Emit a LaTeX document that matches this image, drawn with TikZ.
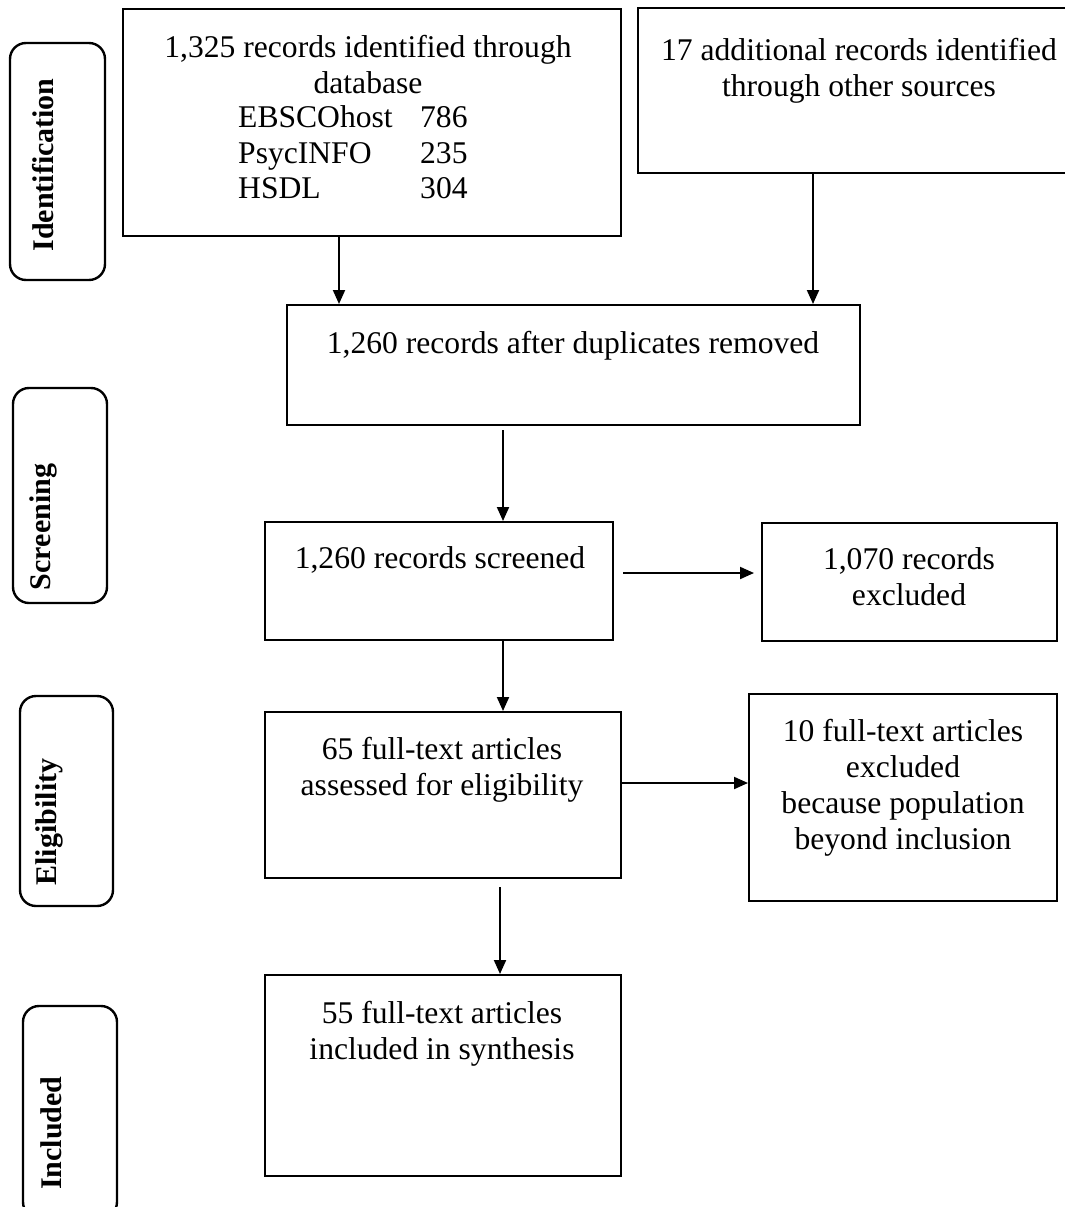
\documentclass[tikz,border=0pt]{standalone}
\usepackage{fontspec}
\setmainfont{Liberation Serif}
\usetikzlibrary{arrows.meta}
\begin{document}
\begin{tikzpicture}[x=1pt,y=-1pt,
  box/.style={draw, line width=2pt, rectangle, inner sep=0pt},
  side/.style={draw, line width=2.4pt, rounded corners=16pt, inner sep=0pt},
  txt/.style={inner sep=0pt, align=center, anchor=north, font=\fontsize{31.6}{36}\selectfont},
  lab/.style={inner sep=0pt, rotate=90, anchor=base, font=\fontsize{30}{36}\selectfont\bfseries},
  arr/.style={line width=2pt, -{Triangle[length=14pt,width=12pt]}}]
\useasboundingbox (0,0) rectangle (1065,1207);
\clip (0,0) rectangle (1065,1207);
% side stage boxes
\node[side, minimum width=95pt, minimum height=237pt] (s1) at (57.5,161.5) {};
\node[side, minimum width=94pt, minimum height=215pt] (s2) at (60,495.5) {};
\node[side, minimum width=93pt, minimum height=210pt] (s3) at (66.5,801) {};
\node[side, minimum width=94pt, minimum height=212pt] (s4) at (70,1112) {};
\node[lab] (l1) at (53,165) {Identification};
\node[lab] (l2) at (50,527) {Screening};
\node[lab] (l3) at (56,822) {Eligibility};
\node[lab] (l4) at (61,1133) {Included};
% main boxes
\node[box, minimum width=498pt, minimum height=227pt] (b1) at (372,122.5) {};
\node[box, minimum width=442pt, minimum height=165pt] (b2) at (859,90.5) {};
\node[box, minimum width=573pt, minimum height=120pt] (b3) at (573.5,365) {};
\node[box, minimum width=348pt, minimum height=118pt] (b4) at (439,581) {};
\node[box, minimum width=295pt, minimum height=118pt] (b5) at (909.5,582) {};
\node[box, minimum width=356pt, minimum height=166pt] (b6) at (443,795) {};
\node[box, minimum width=308pt, minimum height=207pt] (b7) at (903,797.5) {};
\node[box, minimum width=356pt, minimum height=201pt] (b8) at (443,1075.5) {};
% texts
\node[txt] (t1) at (368,35.5) {1,325 records identified through\\database};
\node[inner sep=0pt, anchor=north west, font=\fontsize{31.6}{35.5}\selectfont] (t1b) at (238,102.8)
  {\begin{tabular}{@{}p{182pt}@{}l@{}}EBSCOhost&786\\PsycINFO&235\\HSDL&304\end{tabular}};
\node[txt] (t2) at (859,38.5) {17 additional records identified\\through other sources};
\node[txt] (t3) at (573,331.5) {1,260 records after duplicates removed};
\node[txt] (t4) at (440,546.5) {1,260 records screened};
\node[txt] (t5) at (909,547.5) {1,070 records\\excluded};
\node[txt] (t6) at (442,737) {65 full-text articles\\assessed for eligibility};
\node[txt] (t7) at (903,719.5) {10 full-text articles\\excluded\\because population\\beyond inclusion};
\node[txt] (t8) at (442,1001) {55 full-text articles\\included in synthesis};
% connector guides
\coordinate (c1) at (339,0);
\coordinate (c2) at (813,0);
\coordinate (c3) at (503,0);
\coordinate (c7) at (500,0);
\coordinate (r4) at (0,573);
\coordinate (r6) at (0,783);
% connectors
\draw[arr] (b1.south -| c1) -- (b3.north -| c1);
\draw[arr] (b2.south -| c2) -- (b3.north -| c2);
\draw[arr, shorten <=4pt] (b3.south -| c3) -- (b4.north -| c3);
\draw[arr, shorten <=9pt, shorten >=7pt] (b4.east |- r4) -- (b5.west |- r4);
\draw[arr] (b4.south -| c3) -- (b6.north -| c3);
\draw[arr] (b6.east |- r6) -- (b7.west |- r6);
\draw[arr, shorten <=8pt] (b6.south -| c7) -- (b8.north -| c7);
\end{tikzpicture}
\end{document}
